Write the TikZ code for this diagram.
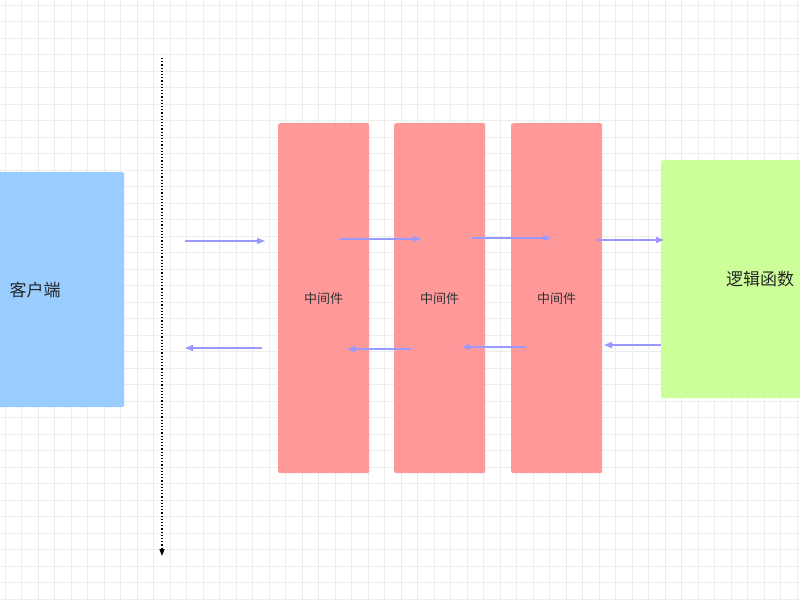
\documentclass[tikz,border=0pt]{standalone}
\usepackage{fontspec}
\newfontfamily\cjk{Noto Sans CJK SC}
\usetikzlibrary{arrows.meta}
\definecolor{bl}{HTML}{99CCFF}
\definecolor{rd}{HTML}{FF9999}
\definecolor{gr}{HTML}{CCFF99}
\definecolor{ar}{HTML}{9999FF}
\begin{document}
\begin{tikzpicture}[x=1pt,y=-1pt,
 box/.style={draw=none,rounded corners=2pt,anchor=north west,inner sep=0,text=black!80},
 fl/.style={ar,line width=1.3pt,-{Triangle[length=8pt,width=6pt]}}]
\clip (0,0) rectangle (800,600);
\fill[white] (0,0) rectangle (800,600);
\foreach \i in {0,...,49}{\draw[black!7,line width=0.5pt] (\i*16.5+5,0)--(\i*16.5+5,600);}
\foreach \i in {0,...,37}{\draw[black!7,line width=0.5pt] (0,\i*16.5+5)--(800,\i*16.5+5);}
\node[box,fill=bl,minimum width=178,minimum height=235] (c) at (-54,172) {};
\node[font=\cjk\fontsize{17}{17}\selectfont,text=black!85] (ct) at (c.center) {客户端};
\foreach \n/\x in {m1/278,m2/394,m3/511}{
 \node[box,fill=rd,minimum width=91,minimum height=350] (\n) at (\x,123) {};
 \node[font=\cjk\fontsize{13}{13}\selectfont,text=black!80] (\n t) at (\n.center) {中间件};
}
\node[box,fill=gr,minimum width=198,minimum height=238] (l) at (661,160) {};
\node[font=\cjk\fontsize{17}{17}\selectfont,text=black!85] (lt) at (l.center) {逻辑函数};
\coordinate (t) at (162,58); \coordinate (b) at (162,556);
\draw[line width=1.2pt,dotted,-{Triangle[length=7pt,width=5pt]}] (t)--(b);
\draw[fl] (185,241)--(265,241);
\draw[fl] (340,239)--(421,239);
\draw[fl] (472,238)--(551,238);
\draw[fl] (597,240)--(664,240);
\draw[fl] (262,348)--(185,348);
\draw[fl] (411,349)--(347,349);
\draw[fl] (526,347)--(462,347);
\draw[fl] (661,345)--(604,345);
\end{tikzpicture}
\end{document}
